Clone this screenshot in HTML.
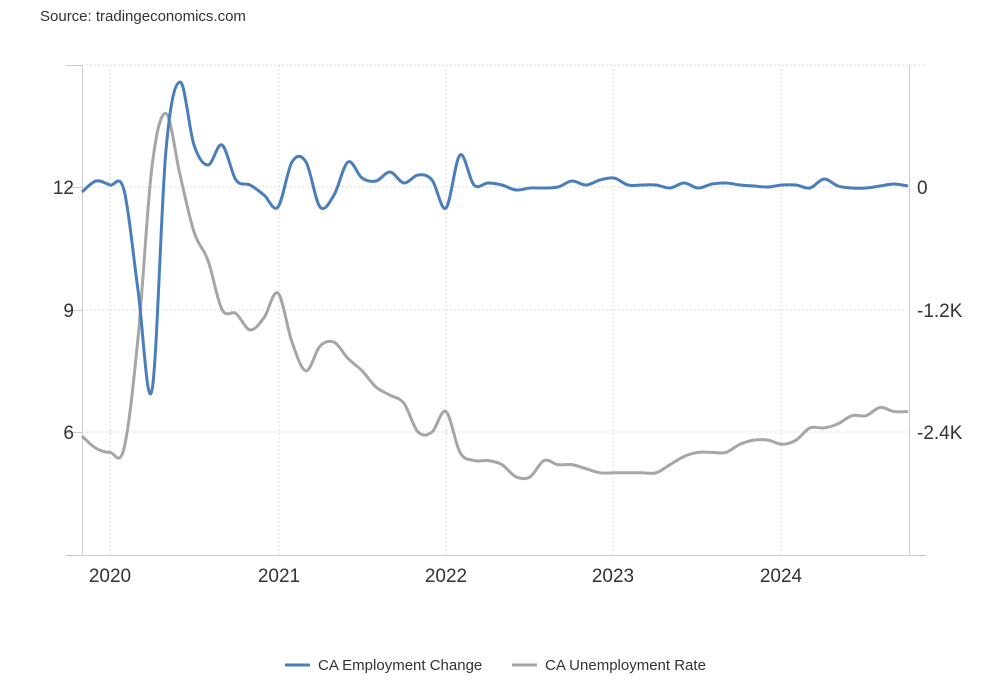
<!DOCTYPE html>
<html><head><meta charset="utf-8"><style>
body{margin:0;background:#fff;font-family:"Liberation Sans",sans-serif;}
</style></head><body>
<svg id="s" width="994" height="680" xmlns="http://www.w3.org/2000/svg" font-family="Liberation Sans, sans-serif">
<text x="40" y="21" font-size="15" fill="#333">Source: tradingeconomics.com</text>
<g stroke="#ddd" stroke-dasharray="2,2" stroke-width="1">
<line x1="82" y1="65" x2="926" y2="65"/>
<line x1="82" y1="187" x2="910" y2="187"/>
<line x1="82" y1="310" x2="910" y2="310"/>
<line x1="82" y1="432" x2="910" y2="432"/>
<line x1="110" y1="65" x2="110" y2="555"/>
<line x1="279" y1="65" x2="279" y2="555"/>
<line x1="446" y1="65" x2="446" y2="555"/>
<line x1="613" y1="65" x2="613" y2="555"/>
<line x1="781" y1="65" x2="781" y2="555"/>
</g>
<g stroke="#ccc" stroke-width="1">
<line x1="82.5" y1="65" x2="82.5" y2="555"/>
<line x1="909.5" y1="65" x2="909.5" y2="555"/>
<line x1="66" y1="555.5" x2="926" y2="555.5"/>
<line x1="66" y1="65.5" x2="82" y2="65.5"/>
<line x1="66" y1="187.5" x2="82" y2="187.5"/>
<line x1="66" y1="310.5" x2="82" y2="310.5"/>
<line x1="66" y1="432.5" x2="82" y2="432.5"/>
</g>
<g font-size="19" fill="#333">
<text x="74" y="194" text-anchor="end">12</text>
<text x="74" y="317" text-anchor="end">9</text>
<text x="74" y="439" text-anchor="end">6</text>
<text x="917" y="194">0</text>
<text x="917" y="317">-1.2K</text>
<text x="917" y="439">-2.4K</text>
<text x="110" y="582" text-anchor="middle">2020</text>
<text x="279" y="582" text-anchor="middle">2021</text>
<text x="446" y="582" text-anchor="middle">2022</text>
<text x="613" y="582" text-anchor="middle">2023</text>
<text x="781" y="582" text-anchor="middle">2024</text>
</g>
<path id="g" fill="none" stroke="#a6a6a6" stroke-width="3"/>
<path id="b" fill="none" stroke="#4a7ebb" stroke-width="3"/>
<line x1="285" y1="665" x2="310" y2="665" stroke="#4a7ebb" stroke-width="3"/>
<text x="318" y="670" font-size="15" fill="#333">CA Employment Change</text>
<line x1="512" y1="665" x2="537" y2="665" stroke="#a6a6a6" stroke-width="3"/>
<text x="545" y="670" font-size="15" fill="#333">CA Unemployment Rate</text>
</svg>
<script>
var gv=[5.9,5.6,5.5,5.6,8.3,12.5,13.8,12.3,10.9,10.2,9.0,8.9,8.5,8.8,9.4,8.2,7.5,8.1,8.2,7.8,7.5,7.1,6.9,6.7,6.0,6.0,6.5,5.5,5.3,5.3,5.2,4.9,4.9,5.3,5.2,5.2,5.1,5.0,5.0,5.0,5.0,5.0,5.2,5.4,5.5,5.5,5.5,5.7,5.8,5.8,5.7,5.8,6.1,6.1,6.2,6.4,6.4,6.6,6.5,6.5];
var by=[192,181,185,190,290,390,150,82,145,165,145,180,185,195,207,162,162,207,195,162,178,181,172,183,175,180,208,155,185,183,185,190,188,188,187,181,185,180,178,185,185,185,188,183,188,184,183,185,186,187,185,185,188,179,186,188,188,186,184,186];
function path(ys){var p=ys.map(function(y,i){return[82+i*14,y]});var d="M"+p[0][0]+","+p[0][1];
for(var i=0;i<p.length-1;i++){var p0=p[i-1]||p[i],p1=p[i],p2=p[i+1],p3=p[i+2]||p2;var t=0.17;
d+=" C"+(p1[0]+(p2[0]-p0[0])*t)+","+(p1[1]+(p2[1]-p0[1])*t)+" "+(p2[0]-(p3[0]-p1[0])*t)+","+(p2[1]-(p3[1]-p1[1])*t)+" "+p2[0]+","+p2[1];}return d;}
document.getElementById("g").setAttribute("d",path(gv.map(function(v){return 187+(12-v)*40.83})));
document.getElementById("b").setAttribute("d",path(by));
</script>
</body></html>
